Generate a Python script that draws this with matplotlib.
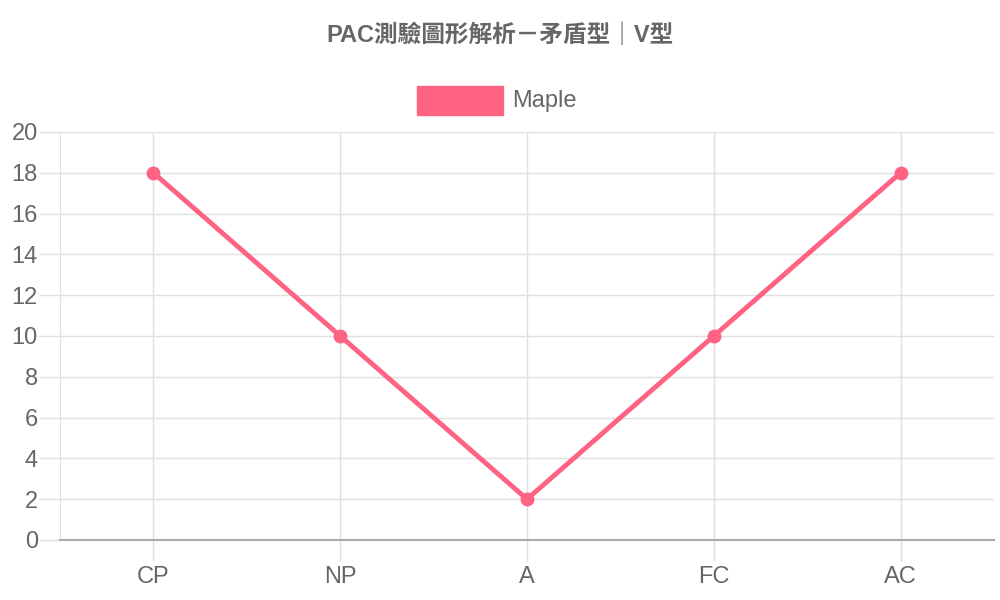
import matplotlib.pyplot as plt
from matplotlib.patches import Rectangle

plt.rcParams['font.family'] = ['Liberation Sans', 'Noto Sans CJK TC', 'DejaVu Sans']

# data
categories = ["CP", "NP", "A", "FC", "AC"]
scores = [18, 10, 2, 10, 18]
series_name = "Maple"
title = "PAC測驗圖形解析－矛盾型｜V型"

line_color = "#ff6384"
grid_color = "#e0e0e0"
text_color = "#666666"

fig = plt.figure(figsize=(10, 6), dpi=100)
ax = fig.add_axes([0.06, 0.10, 0.934, 0.68])

x = list(range(len(categories)))
ax.plot(x, scores, color=line_color, lw=3.5, marker="o", markersize=9,
        solid_capstyle="round", zorder=3, clip_on=False)

ax.set_xlim(-0.5, len(categories) - 0.5)
ax.set_ylim(0, 20)
ax.set_yticks(range(0, 21, 2))
ax.set_xticks(x)
ax.set_xticklabels(categories)

ax.grid(True, color=grid_color, lw=1)
ax.set_axisbelow(True)
ax.tick_params(axis="both", length=15, width=1, color=grid_color,
               labelcolor=text_color, labelsize=17)
ax.tick_params(axis="y", pad=1)
ax.tick_params(axis="x", pad=4)

for side in ["top", "right"]:
    ax.spines[side].set_visible(False)
ax.spines["left"].set_color(grid_color)
ax.spines["bottom"].set_color("#aaaaaa")
ax.spines["bottom"].set_linewidth(1.5)

# title
fig.text(0.5, 1 - 35 / 600, title, ha="center", va="center",
         fontsize=17, fontweight="bold", color=text_color)

# legend
fig.add_artist(Rectangle((0.417, 1 - 115 / 600), 0.086, 29 / 600,
                         transform=fig.transFigure, facecolor=line_color,
                         edgecolor=line_color, lw=1))
fig.text(0.512, 1 - 101 / 600, series_name, ha="left", va="center",
         fontsize=17, color=text_color)

fig.savefig("out.png", dpi=100)
